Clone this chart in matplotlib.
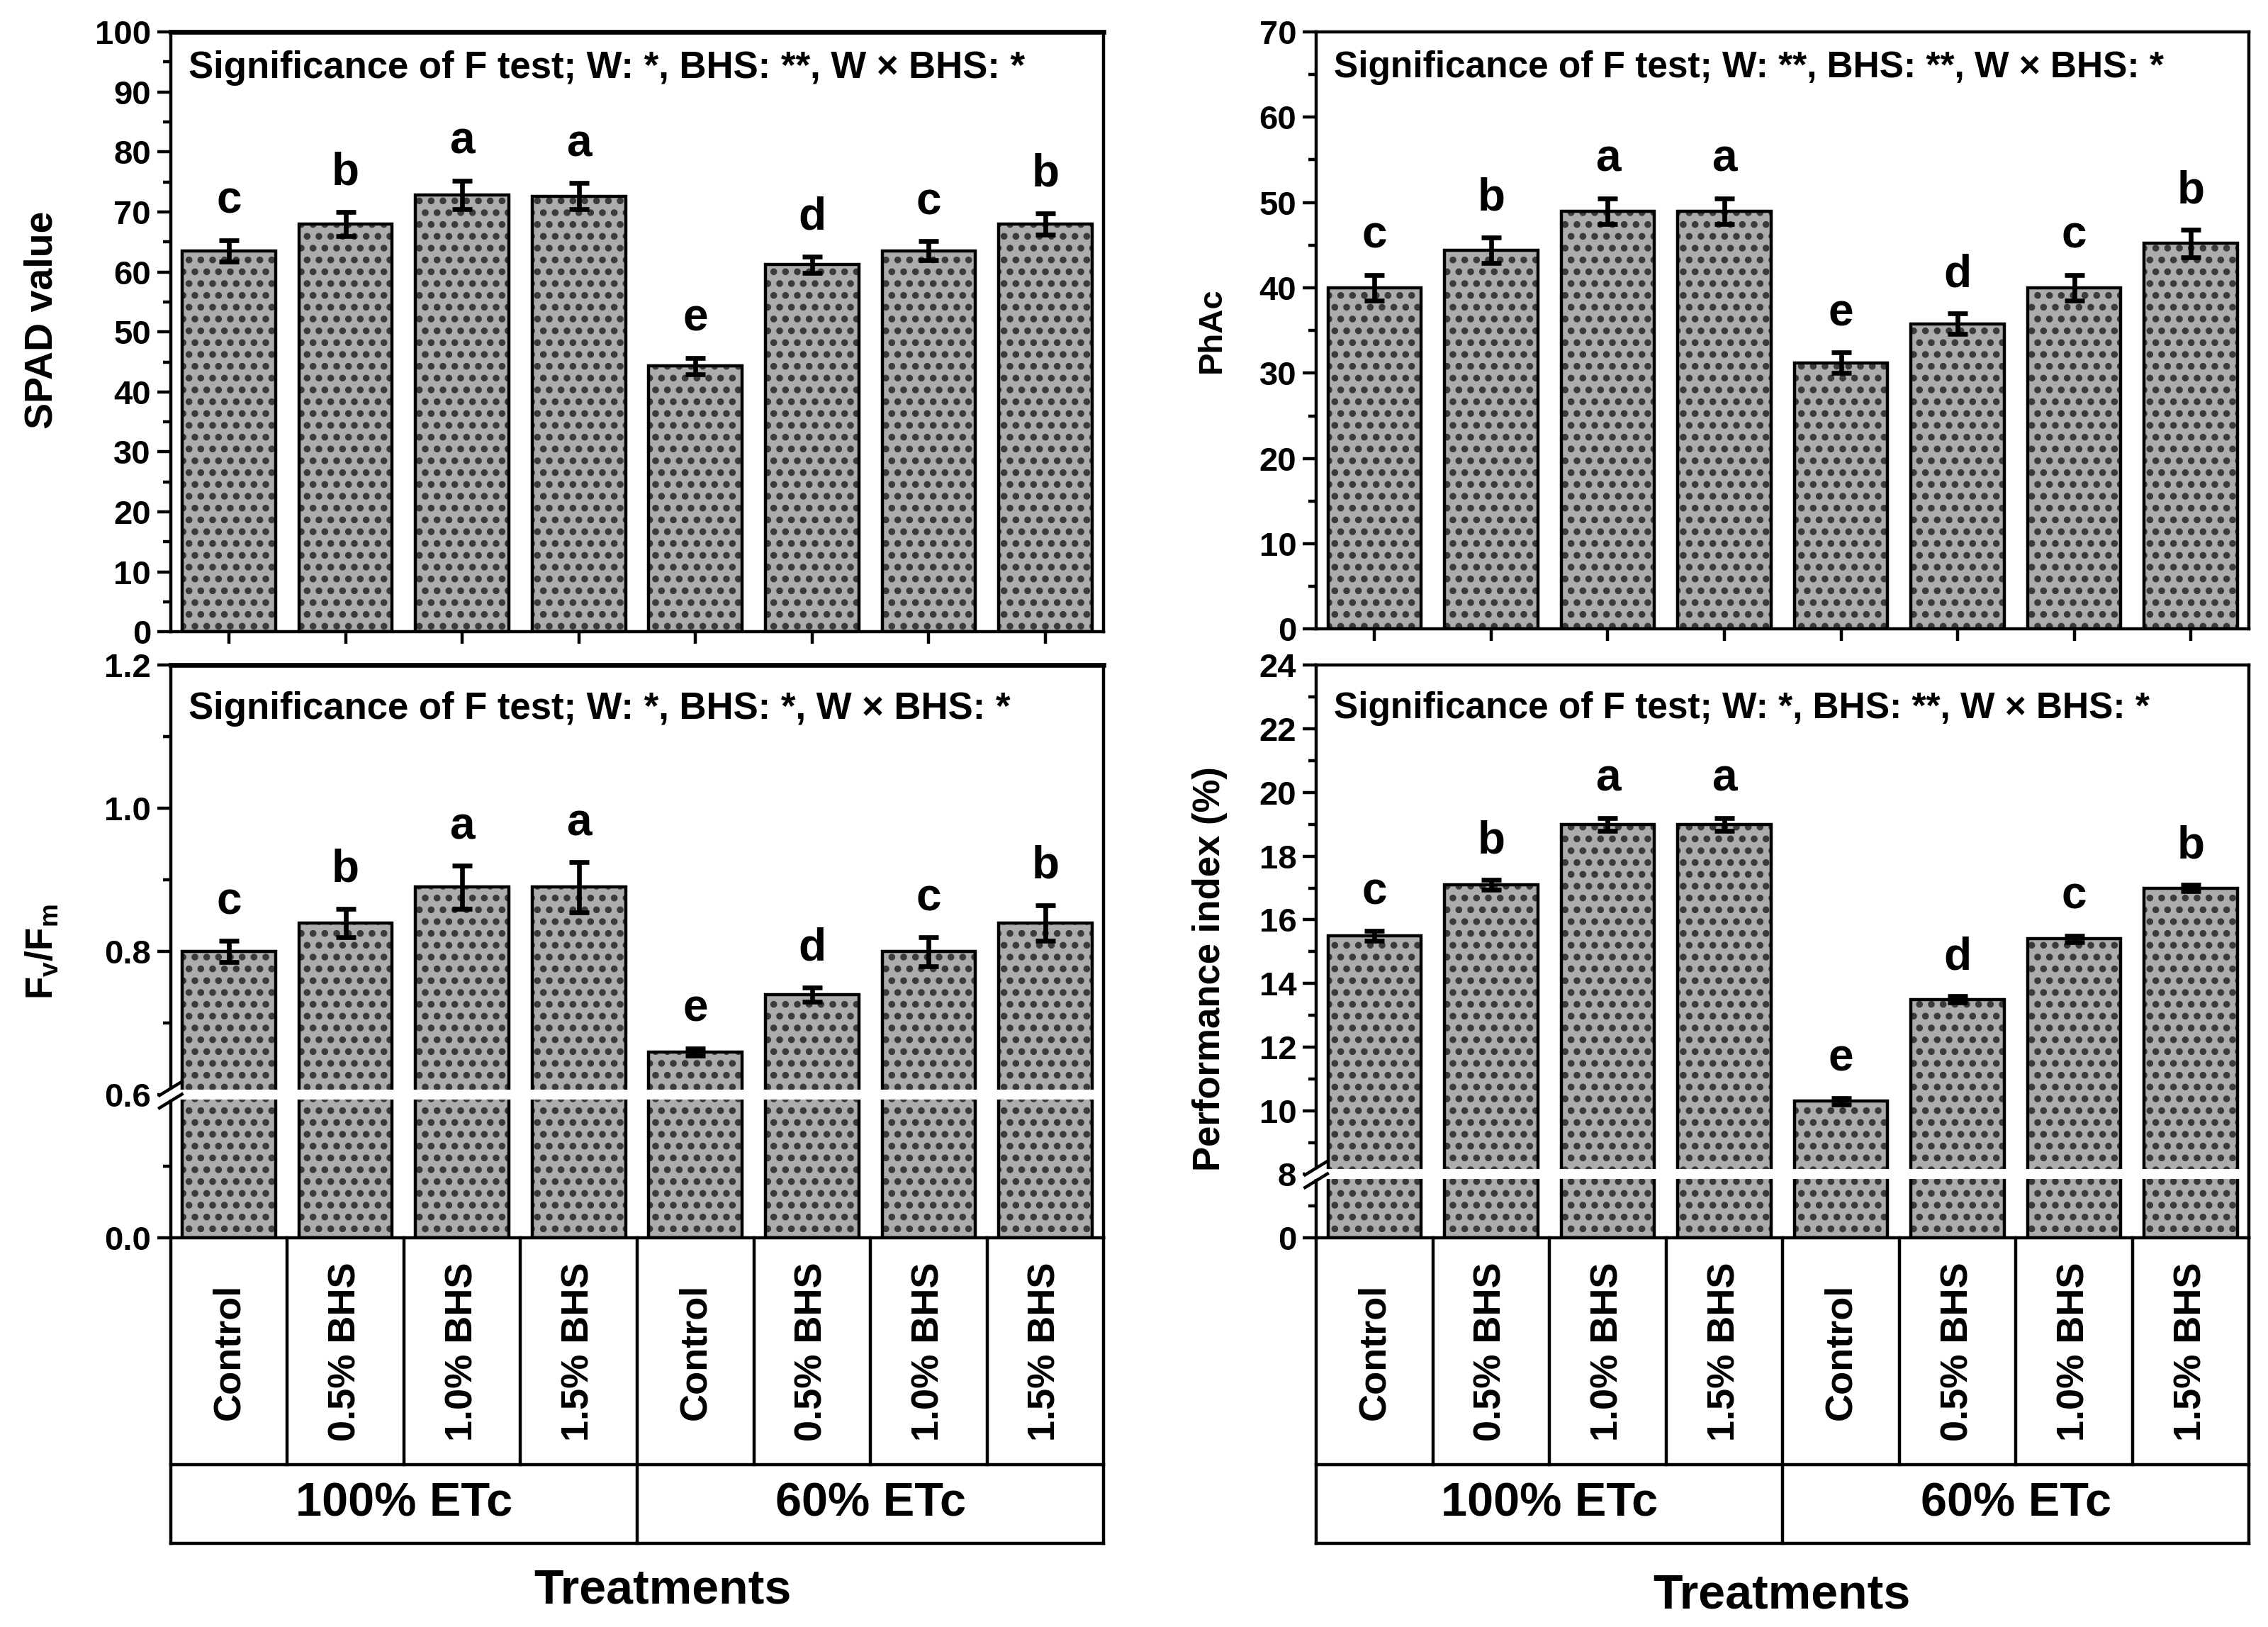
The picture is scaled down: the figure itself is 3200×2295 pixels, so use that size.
import numpy as np
import matplotlib
matplotlib.use("Agg")
import matplotlib.pyplot as plt
from matplotlib import font_manager
from matplotlib.ticker import FixedLocator, MultipleLocator

# treatments
treatments = ["Control", "0.5% BHS", "1.0% BHS", "1.5% BHS",
              "Control", "0.5% BHS", "1.0% BHS", "1.5% BHS"]
groups = ["100% ETc", "60% ETc"]

# SPAD value
spad = [63.5, 68.0, 72.8, 72.6, 44.3, 61.2, 63.5, 68.0]
spad_err = [1.8, 2.0, 2.4, 2.2, 1.4, 1.4, 1.6, 1.8]
spad_let = ["c", "b", "a", "a", "e", "d", "c", "b"]

# photosynthetic activity
phac = [40.0, 44.4, 49.0, 49.0, 31.2, 35.8, 40.0, 45.2]
phac_err = [1.5, 1.5, 1.5, 1.5, 1.2, 1.2, 1.5, 1.6]
phac_let = ["c", "b", "a", "a", "e", "d", "c", "b"]

# Fv/Fm
fvfm = [0.80, 0.84, 0.89, 0.89, 0.66, 0.74, 0.80, 0.84]
fvfm_err = [0.015, 0.02, 0.03, 0.035, 0.005, 0.01, 0.02, 0.025]
fvfm_let = ["c", "b", "a", "a", "e", "d", "c", "b"]

# performance index
pi = [15.5, 17.1, 19.0, 19.0, 10.3, 13.5, 15.4, 17.0]
pi_err = [0.15, 0.15, 0.2, 0.2, 0.1, 0.1, 0.1, 0.1]
pi_let = ["c", "b", "a", "a", "e", "d", "c", "b"]

sig_text = [
    "Significance of F test; W: *, BHS: **, W \u00d7 BHS: *",
    "Significance of F test; W: **, BHS: **, W \u00d7 BHS: *",
    "Significance of F test; W: *, BHS: *, W \u00d7 BHS: *",
    "Significance of F test; W: *, BHS: **, W \u00d7 BHS: *",
]


def has_font(name):
    try:
        font_manager.findfont(name, fallback_to_default=False)
        return True
    except Exception:
        return False


NARROW = "Liberation Sans Narrow" if has_font("Liberation Sans Narrow") else "Liberation Sans"
WIDE = "Liberation Sans"
plt.rcParams['font.family'] = WIDE
plt.rcParams['font.weight'] = 'bold'
plt.rcParams['hatch.linewidth'] = 2.2
plt.rcParams['mathtext.fontset'] = 'custom'
plt.rcParams['mathtext.rm'] = 'Liberation Sans:bold'
plt.rcParams['mathtext.bf'] = 'Liberation Sans:bold'

fig = plt.figure(figsize=(16, 11.475), dpi=200)

W, H = 1568.0, 1125.0
def rect(x0, x1, y0, y1):
    return [x0 / W, 1 - y1 / H, (x1 - x0) / W, (y1 - y0) / H]

LW = 1.6
TICK = 17
x = np.arange(len(treatments))


def draw_bars(ax, vals, errs, letters, font, letter_size=23):
    ax.bar(x, vals, width=0.8, color="#acacac", hatch="..", edgecolor="#3a3a3a",
           linewidth=0, zorder=2)
    ax.bar(x, vals, width=0.8, fill=False, edgecolor="black", linewidth=LW, zorder=3)
    ax.errorbar(x, vals, yerr=errs, fmt="none", ecolor="black", elinewidth=2.4,
                capsize=5, capthick=2.4, zorder=4)
    for xi, v, e, l in zip(x, vals, errs, letters):
        ax.annotate(l, (xi, v + e), xytext=(0, 9), textcoords="offset points",
                    ha="center", va="bottom", fontsize=letter_size,
                    fontweight="bold", family=font)
    ax.set_xlim(-0.5, 7.5)
    for s in ax.spines.values():
        s.set_linewidth(LW)
    ax.tick_params(axis="y", which="major", direction="out", length=7, width=LW,
                   labelsize=TICK, pad=3)
    ax.tick_params(axis="y", which="minor", direction="out", length=4, width=LW)
    for lab in ax.get_yticklabels():
        lab.set_family(font)
        lab.set_fontweight("bold")


def sig(ax, txt, y, font, size=18.5):
    ax.text(0.019, y, txt, transform=ax.transAxes, ha="left", va="center",
            fontsize=size, fontweight="bold", family=font)


def add_break(ax, yb, yfrac):
    tr = ax.get_yaxis_transform()
    ax.plot([-0.012, 0.992], [yb, yb], color="white", lw=5, transform=tr,
            clip_on=False, zorder=6, solid_capstyle="butt")
    for dy in (-0.011, 0.011):
        ax.plot([-0.012, 0.012], [yfrac + dy - 0.012, yfrac + dy + 0.012],
                color="black", lw=1.6, transform=ax.transAxes, clip_on=False, zorder=7)


def add_table(rc, font_cell, font_group):
    tax = fig.add_axes(rc)
    tax.set_xlim(-0.5, 7.5)
    tax.set_ylim(0, 1)
    tax.axis("off")
    split = 0.256
    kw = dict(color="black", lw=LW, solid_capstyle="projecting", clip_on=False)
    tax.plot([-0.5, -0.5], [0, 1], **kw)
    tax.plot([7.5, 7.5], [0, 1], **kw)
    tax.plot([-0.5, 7.5], [0, 0], **kw)
    tax.plot([-0.5, 7.5], [split, split], **kw)
    for b in np.arange(0.5, 7.0, 1.0):
        if b == 3.5:
            tax.plot([b, b], [0, 1], **kw)
        else:
            tax.plot([b, b], [split, 1], **kw)
    for xi, t in zip(x, treatments):
        tax.text(xi, (1 + split) / 2, t, rotation=90, ha="center", va="center",
                 fontsize=19.5, fontweight="bold", family=font_cell)
    for gi, g in enumerate(groups):
        tax.text(1.5 + 4 * gi, split / 2, g, ha="center", va="center",
                 fontsize=24, fontweight="bold", family=font_group)
    return tax


# ---- top left: SPAD
ax1 = fig.add_axes(rect(118, 763, 22, 437))
draw_bars(ax1, spad, spad_err, spad_let, NARROW)
ax1.set_ylim(0, 100)
ax1.yaxis.set_major_locator(MultipleLocator(10))
ax1.yaxis.set_minor_locator(MultipleLocator(5))
for lab in ax1.get_yticklabels():
    lab.set_family(NARROW)
ax1.set_xticks(x)
ax1.set_xticklabels([])
ax1.tick_params(axis="x", direction="out", length=6, width=LW)
ax1.spines["top"].set_linewidth(2.4)
ax1.set_ylabel("SPAD value", fontsize=20, fontweight="bold", family=WIDE)
ax1.yaxis.set_label_coords(-0.118, 0.52)
sig(ax1, sig_text[0], 0.94, NARROW, size=19)

# ---- top right: PhAc
ax2 = fig.add_axes(rect(910, 1555, 22, 435))
draw_bars(ax2, phac, phac_err, phac_let, WIDE)
ax2.set_ylim(0, 70)
ax2.yaxis.set_major_locator(MultipleLocator(10))
ax2.yaxis.set_minor_locator(MultipleLocator(5))
ax2.set_xticks(x)
ax2.set_xticklabels([])
ax2.tick_params(axis="x", direction="out", length=6, width=LW)
ax2.set_ylabel("PhAc", fontsize=17, fontweight="bold", family=WIDE)
ax2.yaxis.set_label_coords(-0.095, 0.5)
sig(ax2, sig_text[1], 0.94, WIDE)

# ---- bottom left: Fv/Fm with broken axis
def fv_fwd(y):
    y = np.asarray(y, dtype=float)
    return np.where(y < 0.6, y / 0.6, 1 + (y - 0.6) / 0.2)

def fv_inv(u):
    u = np.asarray(u, dtype=float)
    return np.where(u < 1, u * 0.6, 0.6 + (u - 1) * 0.2)

ax3 = fig.add_axes(rect(118, 763, 460, 856))
ax3.set_yscale("function", functions=(fv_fwd, fv_inv))
draw_bars(ax3, fvfm, fvfm_err, fvfm_let, NARROW)
ax3.set_ylim(0, 1.2)
ax3.yaxis.set_major_locator(FixedLocator([0.0, 0.6, 0.8, 1.0, 1.2]))
ax3.yaxis.set_minor_locator(FixedLocator([0.3, 0.7, 0.9, 1.1]))
ax3.set_yticklabels(["0.0", "0.6", "0.8", "1.0", "1.2"], family=NARROW,
                    fontweight="bold", fontsize=TICK)
ax3.set_xticks([])
ax3.spines["top"].set_linewidth(2.4)
ax3.set_ylabel(r"F$_\mathregular{v}$/F$_\mathregular{m}$", fontsize=19,
               fontweight="bold", family=WIDE)
ax3.yaxis.set_label_coords(-0.118, 0.5)
sig(ax3, sig_text[2], 0.924, NARROW, size=19)
add_break(ax3, 0.6, 0.25)
add_table(rect(118, 763, 856, 1067), WIDE, NARROW)
fig.text(458 / W, 1 - 1100 / H, "Treatments", ha="center", va="center",
         fontsize=24.5, fontweight="bold", family=WIDE)

# ---- bottom right: performance index with broken axis
def pi_fwd(y):
    y = np.asarray(y, dtype=float)
    return np.where(y < 8, y / 8, 1 + (y - 8) / 2)

def pi_inv(u):
    u = np.asarray(u, dtype=float)
    return np.where(u < 1, u * 8, 8 + (u - 1) * 2)

ax4 = fig.add_axes(rect(910, 1555, 460, 856))
ax4.set_yscale("function", functions=(pi_fwd, pi_inv))
draw_bars(ax4, pi, pi_err, pi_let, WIDE)
ax4.set_ylim(0, 24)
ax4.yaxis.set_major_locator(FixedLocator([0, 8, 10, 12, 14, 16, 18, 20, 22, 24]))
ax4.yaxis.set_minor_locator(FixedLocator([4, 9, 11, 13, 15, 17, 19, 21, 23]))
ax4.set_yticklabels([str(v) for v in [0, 8, 10, 12, 14, 16, 18, 20, 22, 24]],
                    family=WIDE, fontweight="bold", fontsize=TICK)
ax4.set_xticks([])
ax4.set_ylabel("Performance index (%)", fontsize=19, fontweight="bold", family=WIDE)
ax4.yaxis.set_label_coords(-0.095, 0.47)
sig(ax4, sig_text[3], 0.924, WIDE)
add_break(ax4, 8, 1 / 9)
add_table(rect(910, 1555, 856, 1067), WIDE, NARROW)
fig.text(1232 / W, 1 - 1103 / H, "Treatments", ha="center", va="center",
         fontsize=24.5, fontweight="bold", family=WIDE)

fig.savefig("out.png", dpi=200, facecolor="white")
